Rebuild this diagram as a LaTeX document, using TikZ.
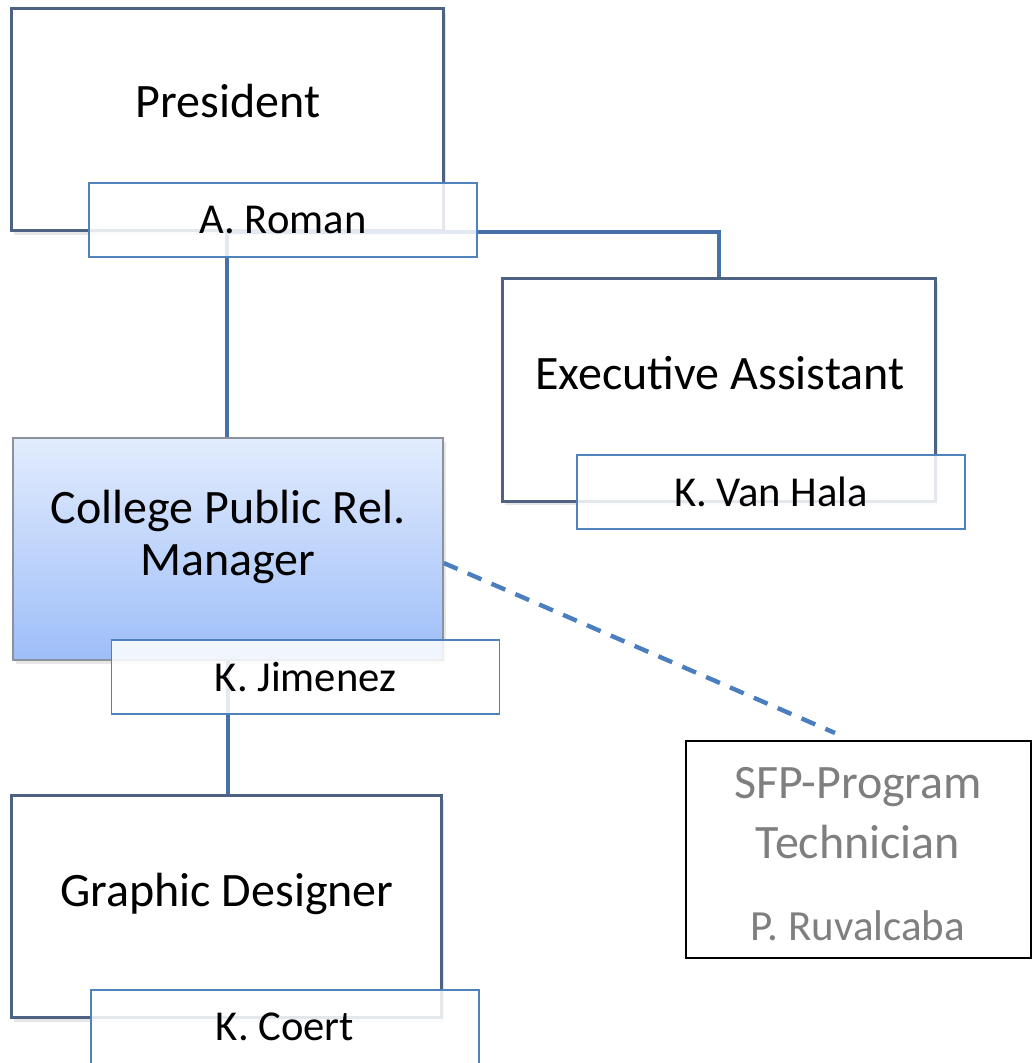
\documentclass[tikz,border=0pt]{standalone}
\usepackage{fontspec}
\setmainfont{Carlito}
\usetikzlibrary{shadows}
\definecolor{boxline}{HTML}{4E6284}
\definecolor{nameline}{HTML}{4F81BD}
\definecolor{linkline}{HTML}{4770A8}
\definecolor{dashblue}{HTML}{4A7EBF}
\definecolor{mgrtop}{HTML}{E2ECFD}
\definecolor{mgrbottom}{HTML}{9EBEF9}
\definecolor{mgrline}{HTML}{8C929C}
\definecolor{sfptext}{HTML}{7F7F7F}
\begin{document}
\begin{tikzpicture}[
        x=0.5pt, y=-0.5pt,
        titlebox/.style={draw=boxline, line width=1.5pt, fill=white,
            minimum width=216pt, minimum height=111pt,
            drop shadow={opacity=0.2, shadow xshift=1.5pt, shadow yshift=-2pt}},
        titletext/.style={font=\fontsize{24}{26}\selectfont, align=center, inner sep=0pt},
        namebox/.style={draw=nameline, line width=0.9pt, fill=white, fill opacity=0.85,
            text opacity=1, minimum width=194pt, minimum height=37pt, inner sep=0pt,
            font=\fontsize{21.3}{24}\selectfont},
        link/.style={draw=linkline, line width=2pt},
        dotlink/.style={draw=dashblue, line width=2.2pt, dash pattern=on 7.5pt off 5.5pt}
    ]
    \useasboundingbox (0,0) rectangle (1032,1063);

    \node[titlebox] (pres) at (227,120) {};
    \node[titlebox, minimum width=216.5pt] (exec) at (718.5,390) {};
    \node[titlebox, draw=mgrline, line width=0.8pt, top color=mgrtop, bottom color=mgrbottom,
        minimum width=215pt] (mgr) at (228,549) {};
    \node[titlebox, minimum width=215pt] (graph) at (226,906.5) {};
    \node[draw=black, line width=1.1pt, fill=white, minimum width=172.5pt,
        minimum height=108.5pt] (sfp) at (858.5,849.5) {};
    \coordinate (dashend) at (835,733);

    \draw[link] (pres.south) -- (pres.south |- mgr.north);
    \draw[link] (pres.south) -| (exec.north);
    \draw[link] (mgr.south) -- (mgr.south |- graph.north);
    \draw[dotlink] ([yshift=-7pt]mgr.east) -- (dashend);

    \node[namebox] (roman) at (283,220) {A. Roman};
    \node[namebox] (vanhala) at (771,492) {K. Van Hala};
    \node[namebox] (jimenez) at (305.5,677) {K. Jimenez};
    \node[namebox] (coert) at (285,1027) {K. Coert};

    \node[titletext, anchor=base] (pres-t) at (228,118) {President};
    \node[titletext, anchor=base] (exec-t) at (720,389) {Executive Assistant};
    \node[titletext] (mgr-t) at (228,537) {College Public Rel.\\Manager};
    \node[titletext, anchor=base] (graph-t) at (227,906) {Graphic Designer};
    \node[titletext, text=sfptext, font=\fontsize{24}{30}\selectfont] (sfp-t) at (858,854)
        {SFP-Program\\Technician\\[11pt]{\fontsize{21.5}{24}\selectfont P. Ruvalcaba}};
\end{tikzpicture}
\end{document}
